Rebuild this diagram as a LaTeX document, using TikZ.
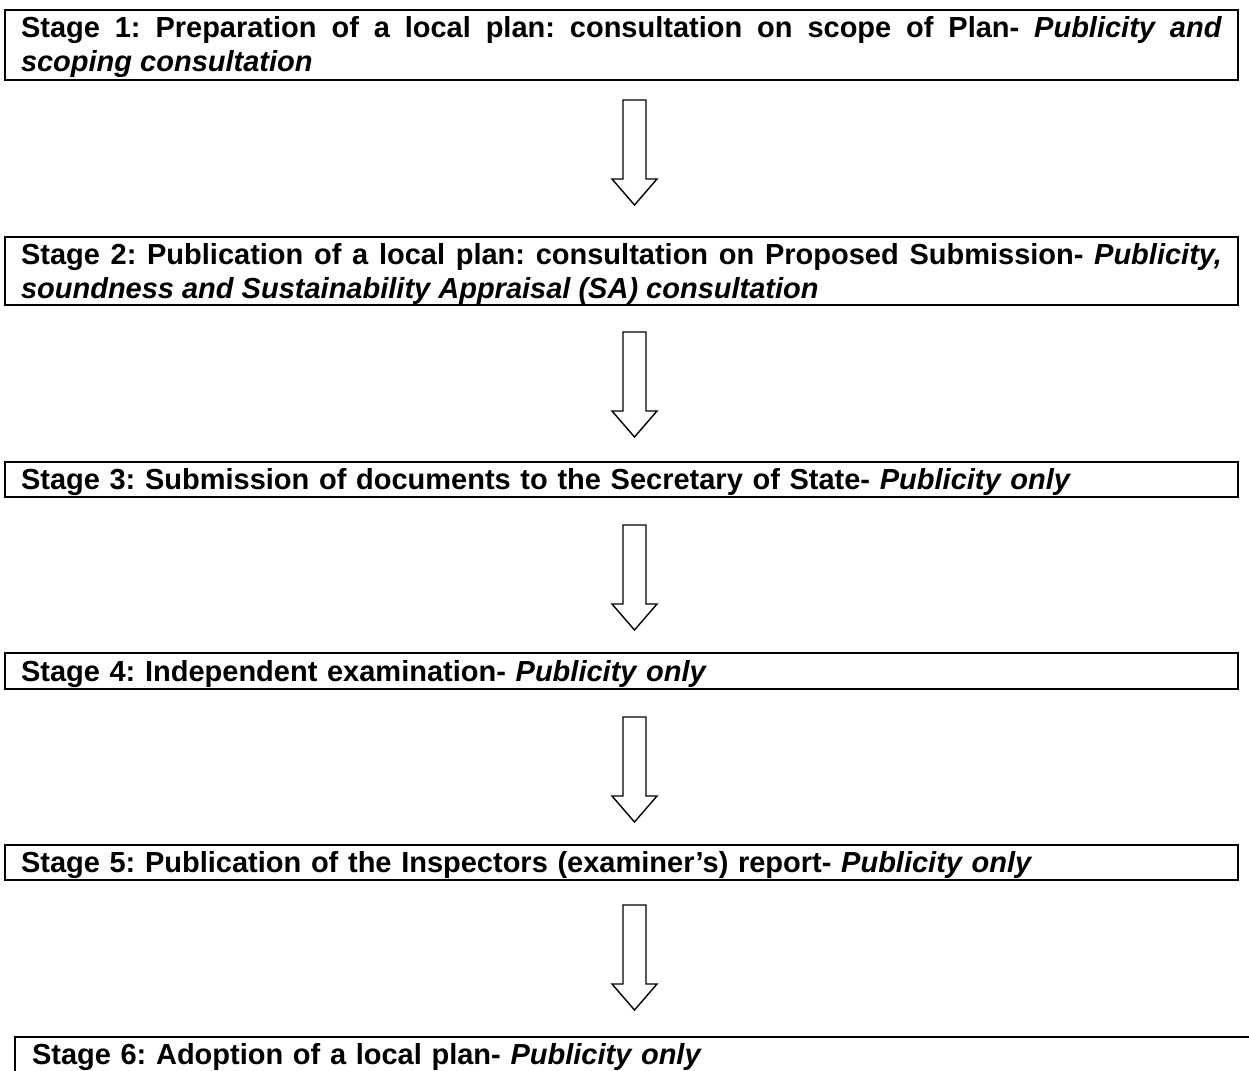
\documentclass[tikz,border=0pt]{standalone}
\usepackage{fontspec}
\setmainfont{Liberation Sans}
\frenchspacing
\newcommand{\stagestrut}{\rule[-7pt]{0pt}{34pt}}
\newcommand{\laststrut}{\rule[-20pt]{0pt}{47pt}}
\tikzset{
  stagebox/.style={draw, line width=2.2pt, anchor=north west, outer sep=0pt,
    inner xsep=16pt, text width=1201pt,
    font=\fontsize{29}{34}\selectfont\bfseries\frenchspacing},
  blockarrow/.style={draw, line width=1.4pt, line join=miter, fill=white}
}
\newcommand{\blockarrowpath}[1]{%
  \draw[blockarrow] (#1) ++(-11.5,0) -- ++(23,0) -- ++(0,79) -- ++(11,0)
    -- ++(-22.5,26) -- ++(-22.5,-26) -- ++(11,0) -- cycle;}
\begin{document}
\begin{tikzpicture}[x=1pt,y=-1pt]
\useasboundingbox (0,0) rectangle (1249,1070);
\clip (0,0) rectangle (1249,1070);
\fill[white] (0,0) rectangle (1249,1070);

\node[stagebox, inner ysep=1pt, align=justify] (b1) at (5,10)
  {\stagestrut Stage 1: Preparation of a local plan: consultation on scope of Plan- \textit{Publicity and}\linebreak\stagestrut\textit{scoping consultation}};

\node[stagebox, inner ysep=0pt, align=justify] (b2) at (5,237)
  {\stagestrut Stage 2: Publication of a local plan: consultation on Proposed Submission- \textit{Publicity,}\linebreak\stagestrut\textit{soundness and Sustainability Appraisal (SA) consultation}};

\node[stagebox, inner ysep=0.5pt, align=left] (b3) at (5,462)
  {\stagestrut Stage 3: Submission of documents to the Secretary of State- \textit{Publicity only}};

\node[stagebox, inner ysep=1pt, align=left] (b4) at (5,653)
  {\stagestrut Stage 4: Independent examination- \textit{Publicity only}};

\node[stagebox, inner ysep=0.5pt, align=left] (b5) at (5,845)
  {\stagestrut Stage 5: Publication of the Inspectors (examiner’s) report- \textit{Publicity only}};

\node[stagebox, inner ysep=0.5pt, inner xsep=17pt, text width=1300pt, align=left] (b6) at (15,1037)
  {\laststrut Stage 6: Adoption of a local plan- \textit{Publicity only}};

\coordinate (a1) at (634.5,100);
\coordinate (a2) at (634.5,332);
\coordinate (a3) at (634.5,525);
\coordinate (a4) at (634.5,717);
\coordinate (a5) at (634.5,905);
\blockarrowpath{a1}
\blockarrowpath{a2}
\blockarrowpath{a3}
\blockarrowpath{a4}
\blockarrowpath{a5}
\end{tikzpicture}
\end{document}
